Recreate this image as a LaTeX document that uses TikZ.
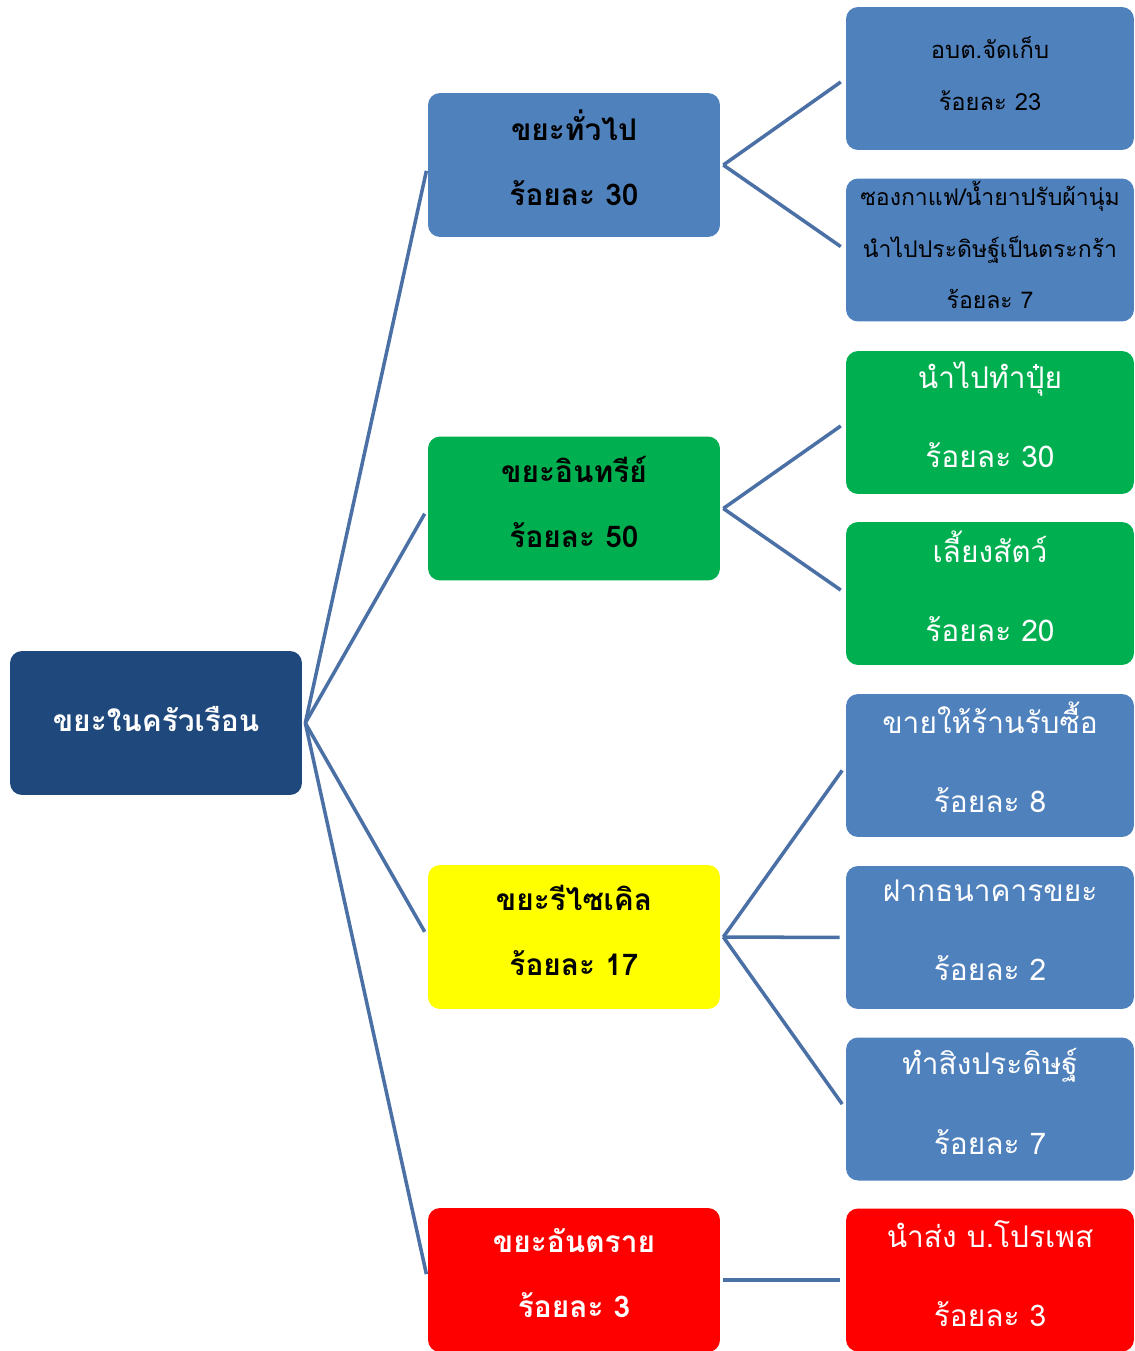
\documentclass[tikz,border=0pt]{standalone}
\usepackage{fontspec}
\newfontfamily\thai[Script=Thai]{Loma}
\definecolor{rootc}{HTML}{1F497D}
\definecolor{bluec}{HTML}{4F81BD}
\definecolor{greenc}{HTML}{00B050}
\definecolor{yellowc}{HTML}{FFFF00}
\definecolor{redc}{HTML}{FF0000}
\definecolor{linec}{HTML}{4A70A6}
\begin{document}
\begin{tikzpicture}[x=0.02cm,y=-0.02cm,
  box/.style={rounded corners=0.24cm, minimum width=5.84cm, minimum height=2.88cm, inner sep=0pt},
  rbox/.style={box, minimum width=5.76cm, minimum height=2.86cm},
  lbl/.style={inner sep=0pt, align=center},
  midtxt/.style={lbl, font=\thai\bfseries\fontsize{17}{37}\selectfont},
  rtxt/.style={lbl, font=\thai\fontsize{17}{45}\selectfont, text=white},
  stxt/.style={lbl, font=\thai\fontsize{13.5}{29.5}\selectfont, text=black},
  conn/.style={draw=linec, line width=2pt, shorten >=0.12cm}]
\useasboundingbox (0,0) rectangle (1134,1351);
\clip (0,0) rectangle (1134,1351);
% root
\node[box, fill=rootc] (root) at (156,723) {};
\node[midtxt, text=white] (roott) at (156,719) {ขยะในครัวเรือน};
% middle
\node[box, fill=bluec] (m1) at (574,165) {};
\node[midtxt, text=black] (m1t) at (574,158) {ขยะทั่วไป\\ร้อยละ 30};
\node[box, fill=greenc] (m2) at (574,508.5) {};
\node[midtxt, text=black] (m2t) at (574,501.5) {ขยะอินทรีย์\\ร้อยละ 50};
\node[box, fill=yellowc] (m3) at (574,937) {};
\node[midtxt, text=black] (m3t) at (574,930) {ขยะรีไซเคิล\\ร้อยละ 17};
\node[box, fill=redc] (m4) at (574,1280) {};
\node[midtxt, text=white] (m4t) at (574,1273) {ขยะอันตราย\\ร้อยละ 3};
% right
\node[rbox, fill=bluec] (r1) at (990,78.5) {};
\node[stxt] (r1t) at (990,74) {อบต.จัดเก็บ\\ร้อยละ 23};
\node[rbox, fill=bluec] (r2) at (990,250) {};
\node[stxt, font=\thai\fontsize{13.1}{29.5}\selectfont] (r2t) at (990,245) {ซองกาแฟ/น้ำยาปรับผ้านุ่ม\\นำไปประดิษฐ์เป็นตระกร้า\\ร้อยละ 7};
\node[rbox, fill=greenc] (r3) at (990,422.5) {};
\node[rtxt] (r3t) at (990,415) {นำไปทำปุ๋ย\\ร้อยละ 30};
\node[rbox, fill=greenc] (r4) at (990,593.5) {};
\node[rtxt] (r4t) at (990,586) {เลี้ยงสัตว์\\ร้อยละ 20};
\node[rbox, fill=bluec] (r5) at (990,765.5) {};
\node[rtxt] (r5t) at (990,757.5) {ขายให้ร้านรับซื้อ\\ร้อยละ 8};
\node[rbox, fill=bluec] (r6) at (990,937.5) {};
\node[rtxt] (r6t) at (990,930) {ฝากธนาคารขยะ\\ร้อยละ 2};
\node[rbox, fill=bluec] (r7) at (990,1109) {};
\node[rtxt] (r7t) at (990,1101.5) {ทำสิงประดิษฐ์\\ร้อยละ 7};
\node[rbox, fill=redc] (r8) at (990,1280) {};
\node[rtxt] (r8t) at (990,1274) {นำส่ง บ.โปรเพส\\ร้อยละ 3};
% connectors
\foreach \m in {m1,m2,m3,m4} \draw[conn] ([xshift=0.06cm]root.east) -- (\m.west);
\draw[conn] ([xshift=0.06cm]m1.east) -- (r1.west);
\draw[conn] ([xshift=0.06cm]m1.east) -- (r2.west);
\draw[conn] ([xshift=0.06cm]m2.east) -- (r3.west);
\draw[conn] ([xshift=0.06cm]m2.east) -- (r4.west);
\draw[conn] ([xshift=0.06cm]m3.east) -- (r5.west);
\draw[conn] ([xshift=0.06cm]m3.east) -- (r6.west);
\draw[conn] ([xshift=0.06cm]m3.east) -- (r7.west);
\draw[conn] ([xshift=0.06cm]m4.east) -- (r8.west);
\end{tikzpicture}
\end{document}
